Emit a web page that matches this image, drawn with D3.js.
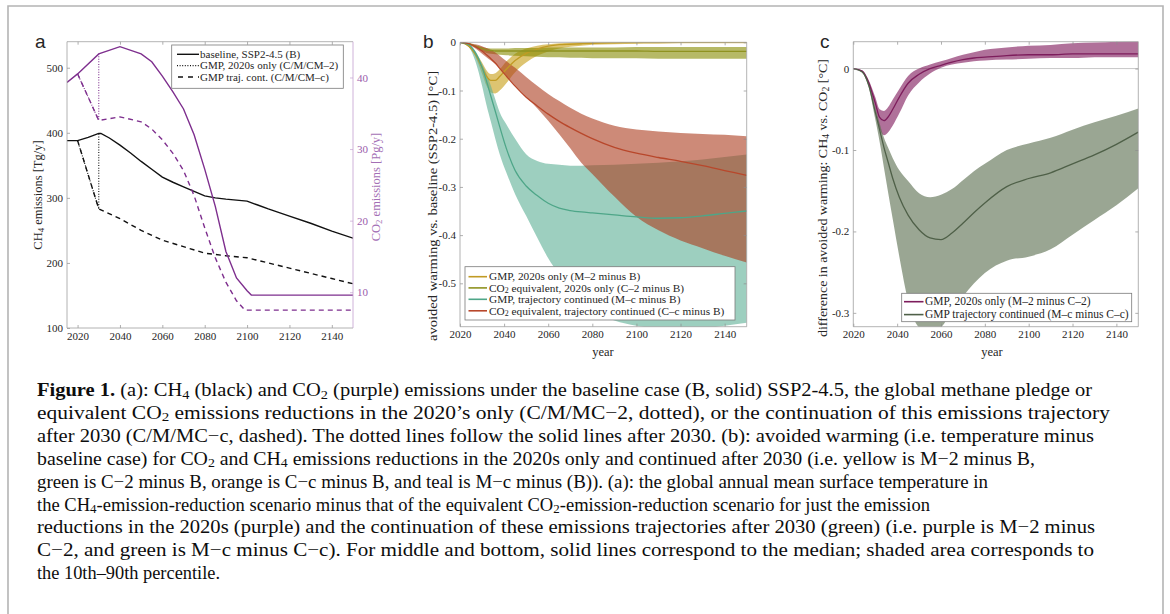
<!DOCTYPE html>
<html>
<head>
<meta charset="utf-8">
<script src="https://cdn.jsdelivr.net/npm/d3@7"></script>
<style>
  body { margin: 0; background: #fff; }
  svg text { font-family: "Liberation Serif", "Times New Roman", serif; fill: #262626; }
</style>
</head>
<body>
<div id="fig"></div>
<script>

// ---------- panel a: emissions ----------
let ch4Base   = [[2015,388],[2020,388],[2025,393],[2030,399],[2031,399],[2035,392],[2040,381],[2045,369],[2050,356],[2055,344],[2060,332],[2065,324],[2070,317],[2075,310],[2080,303],[2085,300],[2090,298],[2095,296.5],[2100,295],[2105,289],[2110,283],[2120,272],[2130,261],[2140,249],[2150,238]];
let ch4Dotted = [[2020,388],[2030,283],[2030,399]];
let ch4Dashed = [[2020,388],[2030,283],[2040,268],[2050,250],[2060,235],[2070,225],[2080,215],[2090,211],[2100,208],[2110,200],[2120,192],[2130,184],[2140,176],[2150,168]];
let co2Base   = [[2015,39.3],[2020,40.5],[2030,43.3],[2040,44.3],[2050,43.3],[2055,42.2],[2060,40.2],[2065,38.0],[2070,35.6],[2075,32.0],[2080,27.2],[2085,22.0],[2090,15.7],[2095,12.0],[2100,10.2],[2102,9.6],[2150,9.6]];
let co2Dotted = [[2020,40.5],[2030,34.0],[2030,43.3]];
let co2Dashed = [[2020,40.5],[2030,34.0],[2040,34.5],[2050,33.8],[2055,32.8],[2060,31.3],[2065,29.4],[2070,27.0],[2075,23.5],[2080,19.0],[2085,14.8],[2090,11.4],[2095,8.8],[2099,7.5],[2150,7.5]];

let legendA = ['baseline, SSP2-4.5 (B)', 'GMP, 2020s only (C/M/CM\u20132)', 'GMP traj. cont. (C/M/CM\u2013c)'];

// ---------- panel b: avoided warming vs baseline ----------
let yearsB = [2020,2024,2027,2030,2032,2034,2036,2038,2041,2045,2050,2055,2060,2065,2070,2075,2080,2090,2100,2110,2120,2130,2140,2150];

let gmp2Med = [0,-0.008,-0.025,-0.052,-0.070,-0.079,-0.079,-0.071,-0.056,-0.038,-0.023,-0.014,-0.008,-0.005,-0.004,-0.003,-0.002,-0.001,-0.0005,0,0,0,0,0];
let gmp2Lo  = [0,-0.010,-0.030,-0.065,-0.090,-0.104,-0.106,-0.100,-0.085,-0.062,-0.042,-0.028,-0.019,-0.013,-0.009,-0.007,-0.005,-0.004,-0.003,-0.003,-0.002,-0.002,-0.002,-0.002];
let gmp2Hi  = [0,-0.006,-0.020,-0.042,-0.058,-0.066,-0.064,-0.056,-0.040,-0.024,-0.013,-0.007,-0.004,-0.002,-0.001,0,0,0,0,0,0,0,0,0];

let co22Med = [0,-0.003,-0.008,-0.013,-0.016,-0.017,-0.018,-0.018,-0.018,-0.018,-0.018,-0.018,-0.018,-0.018,-0.018,-0.018,-0.018,-0.018,-0.018,-0.019,-0.019,-0.019,-0.019,-0.019];
let co22Lo  = [0,-0.004,-0.011,-0.018,-0.022,-0.024,-0.025,-0.026,-0.027,-0.028,-0.029,-0.030,-0.031,-0.031,-0.032,-0.032,-0.033,-0.033,-0.033,-0.034,-0.034,-0.034,-0.034,-0.034];
let co22Hi  = [0,-0.002,-0.006,-0.010,-0.012,-0.013,-0.013,-0.013,-0.013,-0.012,-0.012,-0.012,-0.011,-0.011,-0.011,-0.011,-0.011,-0.011,-0.010,-0.010,-0.010,-0.010,-0.010,-0.010];

let gmpcMed = [0,-0.005,-0.022,-0.052,-0.080,-0.112,-0.143,-0.175,-0.220,-0.266,-0.298,-0.318,-0.334,-0.344,-0.349,-0.352,-0.354,-0.358,-0.362,-0.365,-0.364,-0.360,-0.355,-0.350];
let gmpcLo  = [0,-0.010,-0.040,-0.090,-0.130,-0.165,-0.200,-0.232,-0.270,-0.315,-0.360,-0.405,-0.448,-0.482,-0.515,-0.538,-0.556,-0.577,-0.588,-0.594,-0.596,-0.594,-0.588,-0.582];
let gmpcHi  = [0,-0.004,-0.018,-0.045,-0.065,-0.090,-0.118,-0.145,-0.170,-0.200,-0.232,-0.246,-0.252,-0.254,-0.256,-0.256,-0.255,-0.254,-0.252,-0.250,-0.247,-0.243,-0.238,-0.233];

let co2cMed = [0,-0.003,-0.009,-0.018,-0.026,-0.034,-0.043,-0.054,-0.070,-0.091,-0.114,-0.132,-0.149,-0.164,-0.177,-0.189,-0.200,-0.218,-0.230,-0.239,-0.247,-0.256,-0.266,-0.276];
let co2cLo  = [0,-0.005,-0.013,-0.024,-0.031,-0.038,-0.045,-0.054,-0.069,-0.090,-0.113,-0.137,-0.163,-0.191,-0.220,-0.250,-0.273,-0.320,-0.362,-0.390,-0.411,-0.427,-0.443,-0.457];
let co2cHi  = [0,-0.002,-0.004,-0.008,-0.012,-0.016,-0.021,-0.028,-0.039,-0.053,-0.072,-0.090,-0.107,-0.122,-0.136,-0.148,-0.158,-0.173,-0.181,-0.185,-0.188,-0.190,-0.192,-0.195];

let legendB = ['GMP, 2020s only (M\u20132 minus B)', 'CO_{2} equivalent, 2020s only (C\u20132 minus B)', 'GMP, trajectory continued (M\u2013c minus B)', 'CO_{2} equivalent, trajectory continued (C\u2013c minus B)'];

// ---------- panel c: CH4 vs CO2 ----------
let yearsC = [2020,2024,2027,2030,2032,2034,2036,2038,2041,2045,2050,2055,2060,2065,2070,2075,2080,2090,2100,2110,2120,2130,2140,2150];

let diff2Med = [0,-0.003,-0.017,-0.042,-0.060,-0.064,-0.059,-0.050,-0.035,-0.018,-0.007,0,0.004,0.008,0.011,0.013,0.014,0.016,0.017,0.017,0.018,0.018,0.018,0.018];
let diff2Lo  = [0,-0.004,-0.021,-0.050,-0.074,-0.082,-0.078,-0.070,-0.055,-0.033,-0.017,-0.006,0.001,0.005,0.007,0.009,0.010,0.011,0.012,0.013,0.013,0.014,0.014,0.014];
let diff2Hi  = [0,-0.002,-0.014,-0.035,-0.050,-0.052,-0.047,-0.038,-0.025,-0.009,0,0.005,0.009,0.013,0.017,0.020,0.023,0.026,0.028,0.029,0.031,0.032,0.033,0.034];

let diffcMed = [0,-0.004,-0.020,-0.053,-0.075,-0.097,-0.116,-0.135,-0.158,-0.180,-0.198,-0.208,-0.210,-0.202,-0.190,-0.177,-0.165,-0.145,-0.135,-0.128,-0.117,-0.106,-0.093,-0.078];
let diffcLo  = [0,-0.005,-0.023,-0.062,-0.090,-0.122,-0.154,-0.185,-0.231,-0.285,-0.318,-0.325,-0.318,-0.298,-0.280,-0.264,-0.251,-0.236,-0.231,-0.222,-0.204,-0.186,-0.168,-0.147];
let diffcHi  = [0,-0.003,-0.018,-0.048,-0.067,-0.085,-0.098,-0.110,-0.125,-0.138,-0.153,-0.158,-0.155,-0.148,-0.137,-0.126,-0.117,-0.100,-0.092,-0.085,-0.075,-0.066,-0.058,-0.049];

let legendC = ['GMP, 2020s only (M\u20132 minus C\u20132)', 'GMP trajectory continued (M\u2013c minus C\u2013c)'];

let yearTicks = [2020,2040,2060,2080,2100,2120,2140];

// caption, one entry per printed line
let caption = [
  '**Figure 1.** (a): CH_{4} (black) and CO_{2} (purple) emissions under the baseline case (B, solid) SSP2-4.5, the global methane pledge or',
  'equivalent CO_{2} emissions reductions in the 2020\u2019s only (C/M/MC\u22122, dotted), or the continuation of this emissions trajectory',
  'after 2030 (C/M/MC\u2212c, dashed). The dotted lines follow the solid lines after 2030. (b): avoided warming (i.e. temperature minus',
  'baseline case) for CO_{2} and CH_{4} emissions reductions in the 2020s only and continued after 2030 (i.e. yellow is M\u22122 minus B,',
  'green is C\u22122 minus B, orange is C\u2212c minus B, and teal is M\u2212c minus (B)). (a): the global annual mean surface temperature in',
  'the CH_{4}-emission-reduction scenario minus that of the equivalent CO_{2}-emission-reduction scenario for just the emission',
  'reductions in the 2020s (purple) and the continuation of these emissions trajectories after 2030 (green) (i.e. purple is M\u22122 minus',
  'C\u22122, and green is M\u2212c minus C\u2212c). For middle and bottom, solid lines correspond to the median; shaded area corresponds to',
  'the 10th\u201390th percentile.'
];
let captionRight = [1092, 1110, 1094, 1035, 988, 930, 1095, 1094, 220];

// ---------------------------------------------------------------

let serif = '"Liberation Serif", "Times New Roman", serif';
let sans = '"Liberation Sans", Arial, sans-serif';

let svg = d3.select('#fig').append('svg')
    .attr('width', 1170)
    .attr('height', 614);

// grey frame around the figure
svg.append('path')
    .attr('d', 'M8,614 V6 H1163 V614')
    .attr('fill', 'none')
    .attr('stroke', '#b4b4b4')
    .attr('stroke-width', 1.6);

// writes "CO_{2}" / "**bold**" strings as tspans
function rich(sel, str, size) {
  let parts = str.split(/(_\{[^}]*\}|\*\*[^*]*\*\*)/).filter(s => s.length);
  let shift = size * 0.14;
  let down = false;
  parts.forEach(p => {
    let ts = sel.append('tspan');
    if (p.startsWith('_{')) {
      ts.text(p.slice(2, -1)).attr('font-size', size * 0.7).attr('dy', down ? 0 : shift);
      down = true;
    } else {
      if (p.startsWith('**')) ts.text(p.slice(2, -2)).attr('font-weight', 'bold');
      else ts.text(p);
      if (down) { ts.attr('dy', -shift); down = false; }
    }
  });
  return sel;
}

function matlabAxes(g, x, y, o) {
  let [x0, x1] = x.range();
  let [yb, yt] = y.range();
  let tl = 3;

  let bottom = g.append('g').attr('transform', `translate(0,${yb})`)
      .call(d3.axisBottom(x).tickValues(yearTicks).tickFormat(d3.format('d')).tickSize(-tl).tickPadding(4));
  let top = g.append('g').attr('transform', `translate(0,${yt})`)
      .call(d3.axisTop(x).tickValues(yearTicks).tickFormat('').tickSize(-tl));
  let left = g.append('g').attr('transform', `translate(${x0},0)`)
      .call(d3.axisLeft(y).tickValues(o.yTicks).tickFormat(o.yFmt).tickSize(-tl).tickPadding(4));
  let right;
  if (o.y2) {
    right = g.append('g').attr('transform', `translate(${x1},0)`)
        .call(d3.axisRight(o.y2).tickValues(o.y2Ticks).tickFormat(d3.format('d')).tickSize(-tl).tickPadding(4));
  } else {
    right = g.append('g').attr('transform', `translate(${x1},0)`)
        .call(d3.axisRight(y).tickValues(o.yTicks).tickFormat('').tickSize(-tl));
  }
  [bottom, top, left, right].forEach(a => {
    a.attr('font-family', serif).attr('font-size', 11);
    a.select('.domain').remove();
    a.selectAll('.tick line').attr('stroke', '#8c8c8c').attr('stroke-width', 0.7);
    a.selectAll('text').style('font-family', serif).attr('font-size', 11).style('fill', '#262626');
  });

  g.append('path')
      .attr('d', `M${x0},${yt} H${x1} M${x0},${yb} H${x1} M${x0},${yt} V${yb}`)
      .attr('fill', 'none').attr('stroke', '#a0a0a0').attr('stroke-width', 0.8);
  g.append('path')
      .attr('d', `M${x1},${yt} V${yb}`)
      .attr('fill', 'none').attr('stroke', o.y2 ? o.y2Color : '#a0a0a0').attr('stroke-width', 0.8);
  if (o.y2) {
    right.selectAll('.tick line').attr('stroke', o.y2Color);
    right.selectAll('text').style('fill', o.y2Text);
  }
}

function ylabel(g, str, x, y, size, color, len) {
  let t = g.append('text')
      .attr('transform', `translate(${x},${y}) rotate(-90)`)
      .attr('text-anchor', 'middle')
      .attr('font-size', size);
  if (len) t.attr('textLength', len).attr('lengthAdjust', 'spacingAndGlyphs');
  if (color) t.style('fill', color);
  rich(t, str, size);
}

function clip(id, x, y) {
  let [x0, x1] = x.range(), [yb, yt] = y.range();
  svg.append('clipPath').attr('id', id)
    .append('rect').attr('x', x0).attr('y', yt).attr('width', x1 - x0).attr('height', yb - yt);
}

function legend(g, box, rows, size) {
  g.append('rect')
      .attr('x', box[0]).attr('y', box[1])
      .attr('width', box[2] - box[0]).attr('height', box[3] - box[1])
      .attr('fill', '#fff').attr('stroke', '#7a7a7a').attr('stroke-width', 0.8);
  rows.forEach(r => {
    g.append('line')
        .attr('x1', r.x1).attr('x2', r.x2).attr('y1', r.y).attr('y2', r.y)
        .attr('stroke', r.color).attr('stroke-width', r.w || 1.6)
        .attr('stroke-dasharray', r.dash || null);
    let t = g.append('text')
        .attr('x', r.tx).attr('y', r.y)
        .attr('dy', '0.33em')
        .attr('font-size', size);
    rich(t, r.label, size);
  });
}

// ================= panel a =================
let xa = d3.scaleLinear().domain([2015, 2150]).range([67, 353]);
let ya = d3.scaleLinear().domain([100, 540]).range([328, 41.7]);
let ya2 = d3.scaleLinear().domain([5, 45]).range([328, 41.7]);
let purple = '#7e2f8e';

let gA = svg.append('g');
clip('clipA', xa, ya);
let plotA = gA.append('g').attr('clip-path', 'url(#clipA)');

let lineA = d3.line().x(d => xa(d[0])).y(d => ya(d[1]));
let lineA2 = d3.line().x(d => xa(d[0])).y(d => ya2(d[1]));

plotA.append('path').datum(ch4Dashed).attr('d', lineA)
    .attr('fill', 'none').attr('stroke', '#111').attr('stroke-width', 1.4).attr('stroke-dasharray', '5,4');
plotA.append('path').datum(ch4Dotted).attr('d', lineA)
    .attr('fill', 'none').attr('stroke', '#111').attr('stroke-width', 1.1).attr('stroke-dasharray', '1,1.6');
plotA.append('path').datum(ch4Base).attr('d', lineA)
    .attr('fill', 'none').attr('stroke', '#111').attr('stroke-width', 1.4);
plotA.append('path').datum(co2Dashed).attr('d', lineA2)
    .attr('fill', 'none').attr('stroke', purple).attr('stroke-width', 1.4).attr('stroke-dasharray', '5,4');
plotA.append('path').datum(co2Dotted).attr('d', lineA2)
    .attr('fill', 'none').attr('stroke', purple).attr('stroke-width', 1.1).attr('stroke-dasharray', '1,1.6');
plotA.append('path').datum(co2Base).attr('d', lineA2)
    .attr('fill', 'none').attr('stroke', purple).attr('stroke-width', 1.4);

matlabAxes(gA, xa, ya, {
  yTicks: [100, 200, 300, 400, 500], yFmt: d3.format('d'),
  y2: ya2, y2Ticks: [10, 20, 30, 40], y2Color: '#c3a0cf', y2Text: '#9a5bab'
});

legend(gA, [171.7, 45, 343.3, 88.3], [
  { label: legendA[0], y: 54.3, x1: 177, x2: 199, tx: 200, color: '#111', w: 1.4 },
  { label: legendA[1], y: 65.6, x1: 177, x2: 199, tx: 200, color: '#111', w: 1.1, dash: '1,1.6' },
  { label: legendA[2], y: 77, x1: 178, x2: 199, tx: 200, color: '#111', w: 1.4, dash: '5,5' }
], 11);

ylabel(gA, 'CH_{4} emissions [Tg/y]', 42, 195, 12.5);
ylabel(gA, 'CO_{2} emissions [Pg/y]', 380, 187, 12.5, '#a46fb5');

gA.append('text').attr('x', 35).attr('y', 48)
    .style('font-family', sans).attr('font-size', 19).text('a');

// ================= panel b =================
let xb = d3.scaleLinear().domain([2020, 2150]).range([460, 746.7]);
let yb = d3.scaleLinear().domain([-0.59, 0]).range([326.7, 42.3]);

let gB = svg.append('g');
clip('clipB', xb, yb);
let plotB = gB.append('g').attr('clip-path', 'url(#clipB)');

let seriesB = [
  { med: gmp2Med, lo: gmp2Lo, hi: gmp2Hi, line: '#c19b24', band: '#c69c12' },
  { med: co22Med, lo: co22Lo, hi: co22Hi, line: '#8f9220', band: '#868a00' },
  { med: gmpcMed, lo: gmpcLo, hi: gmpcHi, line: '#4ea688', band: '#5caf94' },
  { med: co2cMed, lo: co2cLo, hi: co2cHi, line: '#b8472b', band: '#ac3c1e' }
];

seriesB.forEach(s => {
  let area = d3.area().curve(d3.curveMonotoneX)
      .x((d, i) => xb(yearsB[i])).y0((d, i) => yb(s.lo[i])).y1((d, i) => yb(s.hi[i]));
  plotB.append('path').datum(s.med).attr('d', area)
      .attr('fill', s.band).attr('fill-opacity', 0.6);
});
seriesB.forEach(s => {
  let line = d3.line().curve(d3.curveMonotoneX).x((d, i) => xb(yearsB[i])).y(d => yb(d));
  plotB.append('path').datum(s.med).attr('d', line)
      .attr('fill', 'none').attr('stroke', s.line).attr('stroke-width', 1.3);
});

let fmtNeg = d => d === 0 ? '0' : d3.format('.1f')(d).replace('\u2212', '-');

matlabAxes(gB, xb, yb, { yTicks: [-0.5, -0.4, -0.3, -0.2, -0.1, 0], yFmt: fmtNeg });

legend(gB, [465, 266.7, 735, 320], seriesB.map((s, i) => ({
  label: legendB[i], y: [276.7, 287.9, 299.3, 310.8][i], x1: 468.5, x2: 487, tx: 489, color: s.line, w: 1.6
})), 11.3);

ylabel(gB, 'avoided warming vs. baseline (SSP2-4.5) [\u00b0C]', 437, 206, 13.5, null, 270);
gB.append('text').attr('x', 603).attr('y', 356).attr('text-anchor', 'middle').attr('font-size', 12.5).text('year');
gB.append('text').attr('x', 423).attr('y', 48)
    .style('font-family', sans).attr('font-size', 19).text('b');

// ================= panel c =================
let xc = d3.scaleLinear().domain([2020, 2150]).range([853.3, 1138.3]);
let yc = d3.scaleLinear().domain([-0.317, 0.033]).range([326.7, 41.7]);

let gC = svg.append('g');
clip('clipC', xc, yc);
let plotC = gC.append('g').attr('clip-path', 'url(#clipC)');

plotC.append('line')
    .attr('x1', xc(2020)).attr('x2', xc(2150)).attr('y1', yc(0)).attr('y2', yc(0))
    .attr('stroke', '#c8c8c8').attr('stroke-width', 1);

let seriesC = [
  { med: diff2Med, lo: diff2Lo, hi: diff2Hi, line: '#7d1d5c', band: '#7b1257' },
  { med: diffcMed, lo: diffcLo, hi: diffcHi, line: '#4f6048', band: '#576b4b' }
];

seriesC.forEach(s => {
  let area = d3.area().curve(d3.curveMonotoneX)
      .x((d, i) => xc(yearsC[i])).y0((d, i) => yc(s.lo[i])).y1((d, i) => yc(s.hi[i]));
  plotC.append('path').datum(s.med).attr('d', area)
      .attr('fill', s.band).attr('fill-opacity', 0.6);
});
seriesC.forEach(s => {
  let line = d3.line().curve(d3.curveMonotoneX).x((d, i) => xc(yearsC[i])).y(d => yc(d));
  plotC.append('path').datum(s.med).attr('d', line)
      .attr('fill', 'none').attr('stroke', s.line).attr('stroke-width', 1.3);
});

matlabAxes(gC, xc, yc, { yTicks: [-0.3, -0.2, -0.1, 0], yFmt: fmtNeg });

legend(gC, [901.7, 293.3, 1131.7, 321.7], seriesC.map((s, i) => ({
  label: legendC[i], y: [301.7, 314.6][i], x1: 904, x2: 923.5, tx: 925, color: s.line, w: 1.6
})), 11.5);

ylabel(gC, 'difference in avoided warming: CH_{4} vs. CO_{2} [\u00b0C]', 827, 198, 13.5, null, 278);
gC.append('text').attr('x', 992).attr('y', 356).attr('text-anchor', 'middle').attr('font-size', 12.5).text('year');
gC.append('text').attr('x', 820).attr('y', 48)
    .style('font-family', sans).attr('font-size', 19).text('c');

// ================= caption =================
let capG = svg.append('g');
caption.forEach((line, i) => {
  let t = capG.append('text')
      .attr('x', 37)
      .attr('y', 396 + i * 22.9)
      .attr('font-size', 18.5)
      .style('fill', '#0d0d0d')
      .attr('textLength', captionRight[i] - 37)
      .attr('lengthAdjust', 'spacingAndGlyphs');
  rich(t, line, 18.5);
});

</script>
</body>
</html>
